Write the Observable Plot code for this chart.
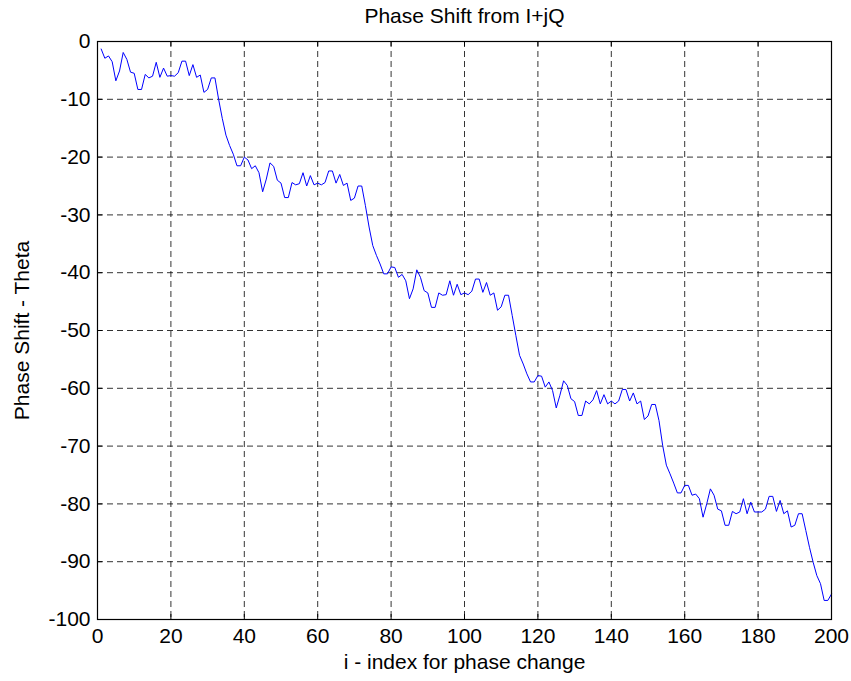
<!DOCTYPE html>
<html>
<head>
<meta charset="utf-8">
<script src="https://cdn.jsdelivr.net/npm/d3@7"></script>
<script src="https://cdn.jsdelivr.net/npm/@observablehq/plot@0.6"></script>
<style>
  body { margin: 0; background: #fff; }
  svg { display: block; }
</style>
</head>
<body>
<div id="chart"></div>
<script>
// ---- data ----
const titleText = "Phase Shift from I+jQ";
const xLabel = "i - index for phase change";
const yLabel = "Phase Shift - Theta";

const xTicks = [0, 20, 40, 60, 80, 100, 120, 140, 160, 180, 200];
const yTicks = [0, -10, -20, -30, -40, -50, -60, -70, -80, -90, -100];

const theta = [
  -1.3, -2.9, -2.5, -3.5, -6.8, -5.1, -1.9, -3.1, -5.3, -5.5,
  -8.3, -8.3, -5.7, -6.3, -6.0, -3.6, -6.2, -4.6, -6.0, -5.9,
  -6.0, -5.4, -3.4, -3.4, -5.9, -4.0, -6.2, -5.8, -8.8, -8.3,
  -6.3, -6.3, -10.0, -13.3, -16.2, -18.0, -19.5, -21.5, -21.5, -20.0,
  -20.5, -22.0, -21.5, -22.7, -26.0, -23.8, -21.0, -21.6, -24.0, -24.5,
  -27.0, -27.0, -24.4, -24.8, -24.6, -22.7, -25.0, -23.2, -24.8, -24.5,
  -24.8, -24.4, -22.4, -22.4, -24.5, -23.0, -24.9, -24.5, -27.5, -27.1,
  -25.0, -25.0, -28.4, -32.1, -35.3, -37.0, -38.5, -40.2, -40.2, -39.0,
  -39.1, -40.8, -40.3, -41.4, -44.5, -42.8, -39.5, -40.8, -43.1, -43.5,
  -46.0, -46.0, -43.5, -43.9, -43.8, -41.4, -43.9, -42.0, -43.8, -43.5,
  -43.8, -43.2, -41.1, -41.1, -43.4, -41.7, -43.9, -43.5, -46.5, -45.9,
  -43.9, -43.9, -47.4, -50.9, -54.3, -55.8, -57.5, -58.9, -58.9, -57.8,
  -57.9, -59.8, -58.9, -60.4, -63.4, -61.2, -58.7, -59.5, -61.8, -62.3,
  -64.7, -64.7, -62.2, -62.7, -62.0, -60.4, -62.7, -61.1, -62.7, -62.2,
  -62.7, -62.2, -60.2, -60.2, -62.2, -60.8, -62.7, -62.2, -65.4, -64.8,
  -62.8, -62.8, -65.6, -69.9, -73.3, -74.8, -76.4, -78.1, -78.1, -76.8,
  -76.8, -78.5, -78.3, -79.1, -82.3, -80.0, -77.4, -78.5, -80.9, -81.2,
  -83.7, -83.7, -81.3, -81.7, -81.4, -79.1, -81.7, -79.7, -81.4, -81.4,
  -81.4, -80.9, -78.7, -78.7, -81.3, -79.4, -81.7, -81.2, -84.0, -83.7,
  -81.7, -81.7, -84.6, -87.5, -90.1, -92.4, -93.8, -96.7, -96.7, -95.6
];
const index = theta.map((_, k) => k + 1);

// ---- chart ----
const W = 851, H = 681;
const mL = 97, mR = 20, mT = 41, mB = 62;
const frameW = W - mL - mR, frameH = H - mT - mB;
const tickLen = 5;
const font = "'Liberation Sans', Arial, Helvetica, sans-serif";
const fmt = d => `${d}`;

const data = index.map((i, k) => ({i, theta: theta[k]}));

const chart = Plot.plot({
  width: W,
  height: H,
  marginLeft: mL,
  marginRight: mR,
  marginTop: mT,
  marginBottom: mB,
  style: {fontFamily: font, fontSize: "20px", color: "#000", background: "#fff", overflow: "visible"},
  x: {domain: [0, 200]},
  y: {domain: [-100, 0]},
  marks: [
    Plot.gridX(xTicks, {stroke: "#000", strokeOpacity: 0.8, strokeDasharray: "6,4"}),
    Plot.gridY(yTicks, {stroke: "#000", strokeOpacity: 0.8, strokeDasharray: "6,4"}),
    // inward ticks on all four sides
    Plot.ruleX(xTicks, {stroke: "#000", insetTop: frameH - tickLen}),
    Plot.ruleX(xTicks, {stroke: "#000", insetBottom: frameH - tickLen}),
    Plot.ruleY(yTicks, {stroke: "#000", insetLeft: frameW - tickLen}),
    Plot.ruleY(yTicks, {stroke: "#000", insetRight: frameW - tickLen}),
    Plot.axisX(xTicks, {tickSize: 0, tickPadding: 9, tickFormat: fmt, label: null, fontSize: 21}),
    Plot.axisY(yTicks, {tickSize: 0, tickPadding: 7, tickFormat: fmt, label: null, fontSize: 21}),
    Plot.line(data, {x: "i", y: "theta", stroke: "#0000ff", strokeWidth: 1}),
    Plot.frame({stroke: "#000", strokeWidth: 1.2}),
    Plot.text([titleText], {frameAnchor: "top", dy: -33, fontSize: 21, fill: "#000", textAnchor: "middle"}),
    Plot.text([xLabel], {frameAnchor: "bottom", dy: 49, fontSize: 21, fill: "#000", textAnchor: "middle"}),
    Plot.text([yLabel], {frameAnchor: "left", dx: -75, rotate: -90, fontSize: 21, fill: "#000", textAnchor: "middle"})
  ]
});

document.getElementById("chart").appendChild(chart);
</script>
</body>
</html>
